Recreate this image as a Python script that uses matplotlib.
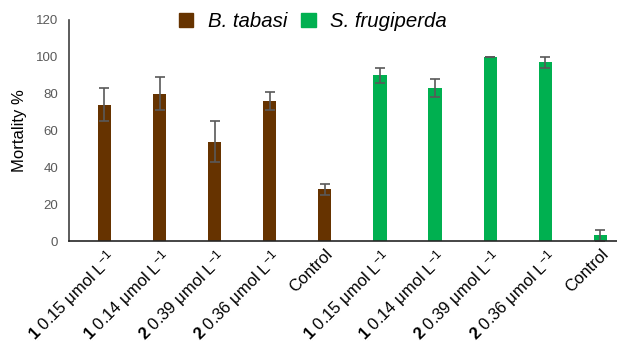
import numpy as np
import matplotlib.pyplot as plt
from matplotlib.patches import Patch

plt.rcParams['font.family'] = ['Liberation Sans', 'DejaVu Sans']
plt.rcParams['mathtext.fontset'] = 'custom'
plt.rcParams['mathtext.rm'] = 'Liberation Sans'
plt.rcParams['mathtext.bf'] = 'Liberation Sans:bold'
plt.rcParams['mathtext.it'] = 'Liberation Sans:italic'

# data
labels = [r"$\mathbf{1}$ 0.15 μmol L$^{-1}$", r"$\mathbf{1}$ 0.14 μmol L$^{-1}$",
          r"$\mathbf{2}$ 0.39 μmol L$^{-1}$", r"$\mathbf{2}$ 0.36 μmol L$^{-1}$", "Control"]
tabasi = [74, 80, 54, 76, 28]
tabasi_err = [9, 9, 11, 5, 3]
frugiperda = [90, 83, 100, 97, 3]
frugiperda_err = [4, 5, 0, 3, 3]

brown = '#663300'
green = '#00B050'
errc = '#595959'

fig = plt.figure(figsize=(6.17, 3.44), dpi=100)
ax = fig.add_axes([0.112, 0.2994, 0.888, 0.6426])

x1 = np.arange(5)
x2 = np.arange(5, 10)
w = 0.24
ax.bar(x1, tabasi, w, color=brown, yerr=tabasi_err, capsize=3.5,
       error_kw=dict(ecolor=errc, elinewidth=1.2, capthick=1.2))
ax.bar(x2, frugiperda, w, color=green, yerr=frugiperda_err, capsize=3.5,
       error_kw=dict(ecolor=errc, elinewidth=1.2, capthick=1.2))

ax.set_xlim(-0.64, 9.3)
ax.set_ylim(0, 120)
ax.set_yticks(range(0, 121, 20))
ax.tick_params(axis='y', length=0, labelsize=9.5, labelcolor=errc, pad=8)
ax.tick_params(axis='x', length=0, labelsize=12, pad=4)
ax.set_xticks(np.arange(10))
ax.set_xticklabels(labels + labels, rotation=45, ha='right', rotation_mode='anchor')
ax.set_ylabel('Mortality %', fontsize=12, labelpad=6)

for s in ['top', 'right']:
    ax.spines[s].set_visible(False)
ax.spines['left'].set_color('#404040')
ax.spines['bottom'].set_color('#262626')
ax.spines['left'].set_linewidth(1.2)
ax.spines['bottom'].set_linewidth(1.2)

handles = [Patch(color=brown, label='B. tabasi'), Patch(color=green, label='S. frugiperda')]
fig.legend(handles=handles, loc='center', bbox_to_anchor=(0.507, 0.938), ncol=2,
           frameon=False, prop=dict(style='italic', size=14.7), handlelength=0.7,
           handleheight=0.7, handletextpad=0.7, columnspacing=0.7)

fig.savefig('out.png', dpi=100)
